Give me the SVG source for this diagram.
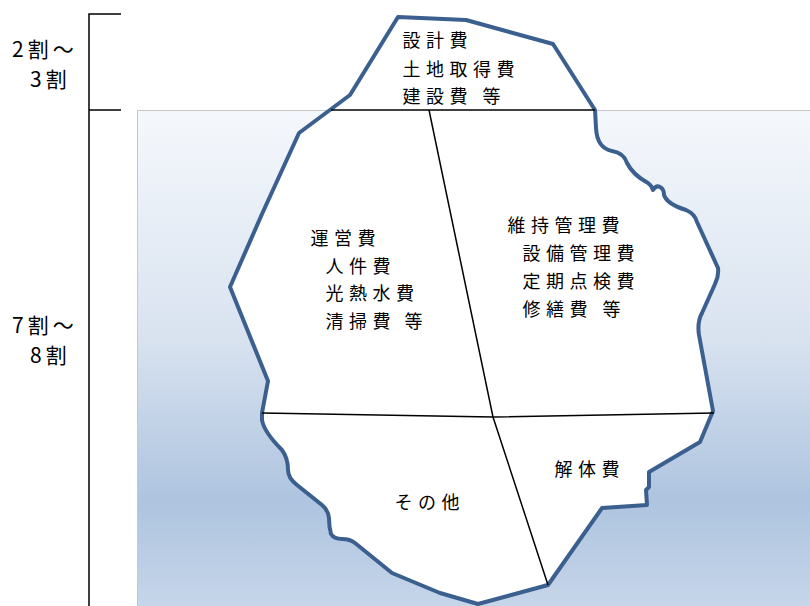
<svg xmlns="http://www.w3.org/2000/svg" width="810" height="606" viewBox="0 0 810 606">
<defs>
<linearGradient id="sea" x1="0" y1="0" x2="0" y2="1">
<stop offset="0" stop-color="#f5f8fc"/>
<stop offset="0.45" stop-color="#d9e3f0"/>
<stop offset="0.78" stop-color="#aec4df"/>
<stop offset="1" stop-color="#c7d6ea"/>
</linearGradient>
<style>
.lbl{font-family:"Noto Sans CJK JP","Noto Sans",sans-serif;font-size:21px;fill:#000;letter-spacing:4px}
.t{font-family:"Noto Sans CJK JP","Noto Sans",sans-serif;font-size:18px;fill:#000;letter-spacing:5.5px}
.div{stroke:#000;stroke-width:1.5;fill:none}
.brk{stroke:#000;stroke-width:1.5;fill:none}
</style>
</defs>
<rect x="137.5" y="110.5" width="680" height="500" fill="url(#sea)" stroke="#c8c8c8" stroke-width="1"/>
<g id="bracket">
<path class="brk" d="M121,14 H89 V606 M89,110 H121"/>
</g>
<g id="ratio-top">
<text class="lbl" x="12" y="57">2割～</text>
<text class="lbl" x="30" y="86.5">3割</text>
</g>
<g id="ratio-bottom">
<text class="lbl" x="12" y="333">7割～</text>
<text class="lbl" x="30" y="362.5">8割</text>
</g>
<g id="iceberg">
<path d="M398,17 L466,20 L553,44 L595,110 L596,128 Q597,148 612,151 Q624,153 627,163 Q633,175 648,183 Q652,186 653,190 Q656,185 660,187 Q664,189 664,195 Q667,204 686,210 Q695,214 697,222 L718,268 Q719,276 715,284 L702,313 Q697,322 699,335 L713,411 L700,442 L649,472 L649,487 L646,490 L647,505 L602,508 L548,585 L478,604 L440,593 L392,573 L355,543 Q350,539 342,539 Q334,539 331,534 Q329,527 329,518 Q328,510 322,505 L297,485 Q288,478 288,470 Q288,458 282,450 Q264,432 262,420 L262,413 L268,381 L230,287 L262,214 L299,133 L350,95 Z" fill="#fff" stroke="#3b5f8e" stroke-width="4" stroke-linejoin="round"/>
</g>
<g id="connectors">
<path class="div" d="M331,110 H595"/>
<path class="div" d="M429,110 L493,417 L548,585"/>
<path class="div" d="M262,413 L493,417 L714,413"/>
</g>
<g id="node-top">
<text class="t" x="402.5" y="47">設計費</text>
<text class="t" x="402.5" y="76">土地取得費</text>
<text class="t" x="402.5" y="103">建設費<tspan x="482.5">等</tspan></text>
</g>
<g id="node-operation">
<text class="t" x="310.5" y="245">運営費</text>
<text class="t" x="325.5" y="273">人件費</text>
<text class="t" x="325.5" y="300">光熱水費</text>
<text class="t" x="325.5" y="328">清掃費<tspan x="404.5">等</tspan></text>
</g>
<g id="node-maintenance">
<text class="t" x="507.5" y="232">維持管理費</text>
<text class="t" x="522.5" y="260">設備管理費</text>
<text class="t" x="522.5" y="288">定期点検費</text>
<text class="t" x="522.5" y="316">修繕費<tspan x="602.5">等</tspan></text>
</g>
<g id="node-other">
<text class="t" x="394.5" y="509">その他</text>
</g>
<g id="node-demolition">
<text class="t" x="554.5" y="476">解体費</text>
</g>
</svg>
